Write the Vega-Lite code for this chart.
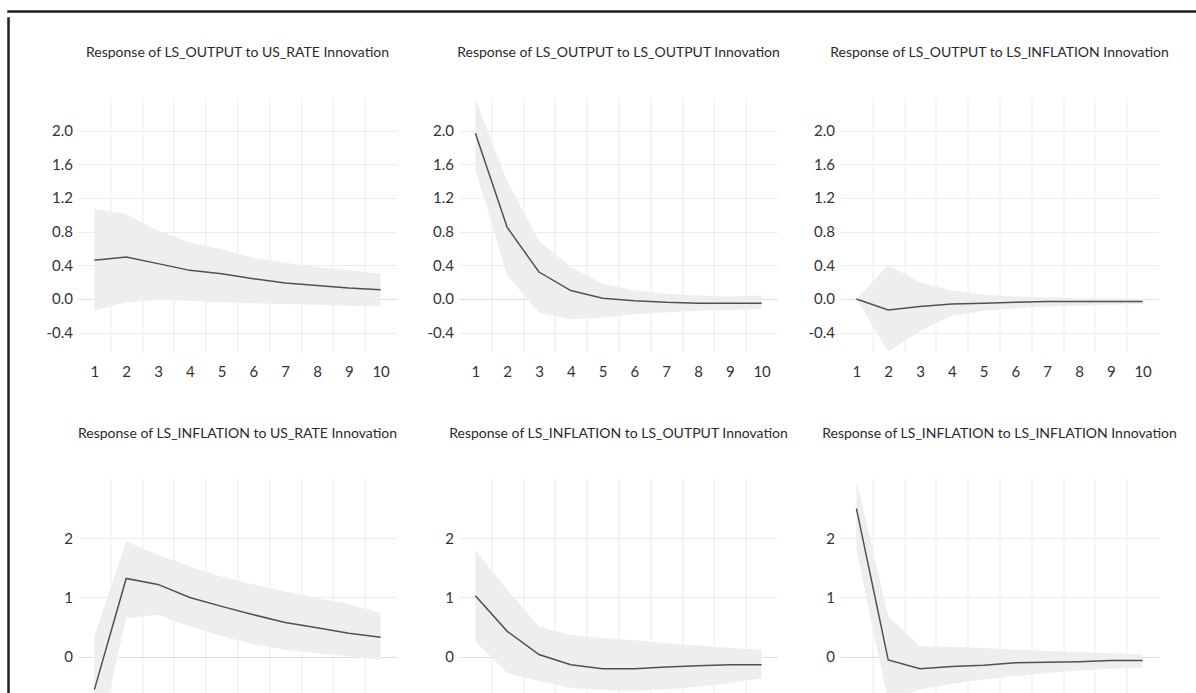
{
  "$schema": "https://vega.github.io/schema/vega-lite/v6.json",
  "padding": {"left": 5, "top": 8, "right": 0, "bottom": 0},
  "background": "#ffffff",
  "datasets": {
    "irf": [
      {"panel": 1, "h": 1, "v": 0.46, "lo": -0.14, "hi": 1.07},
      {"panel": 1, "h": 2, "v": 0.50, "lo": -0.04, "hi": 1.01},
      {"panel": 1, "h": 3, "v": 0.42, "lo": -0.01, "hi": 0.81},
      {"panel": 1, "h": 4, "v": 0.34, "lo": -0.02, "hi": 0.67},
      {"panel": 1, "h": 5, "v": 0.30, "lo": -0.04, "hi": 0.59},
      {"panel": 1, "h": 6, "v": 0.24, "lo": -0.05, "hi": 0.49},
      {"panel": 1, "h": 7, "v": 0.19, "lo": -0.06, "hi": 0.43},
      {"panel": 1, "h": 8, "v": 0.16, "lo": -0.07, "hi": 0.38},
      {"panel": 1, "h": 9, "v": 0.13, "lo": -0.08, "hi": 0.34},
      {"panel": 1, "h": 10, "v": 0.11, "lo": -0.09, "hi": 0.30},
      {"panel": 2, "h": 1, "v": 1.97, "lo": 1.54, "hi": 2.38},
      {"panel": 2, "h": 2, "v": 0.85, "lo": 0.28, "hi": 1.40},
      {"panel": 2, "h": 3, "v": 0.32, "lo": -0.16, "hi": 0.69},
      {"panel": 2, "h": 4, "v": 0.10, "lo": -0.24, "hi": 0.38},
      {"panel": 2, "h": 5, "v": 0.01, "lo": -0.22, "hi": 0.18},
      {"panel": 2, "h": 6, "v": -0.02, "lo": -0.18, "hi": 0.10},
      {"panel": 2, "h": 7, "v": -0.04, "lo": -0.16, "hi": 0.06},
      {"panel": 2, "h": 8, "v": -0.05, "lo": -0.14, "hi": 0.04},
      {"panel": 2, "h": 9, "v": -0.05, "lo": -0.13, "hi": 0.03},
      {"panel": 2, "h": 10, "v": -0.05, "lo": -0.12, "hi": 0.04},
      {"panel": 3, "h": 1, "v": 0.0, "lo": 0.0, "hi": 0.0},
      {"panel": 3, "h": 2, "v": -0.13, "lo": -0.63, "hi": 0.40},
      {"panel": 3, "h": 3, "v": -0.09, "lo": -0.38, "hi": 0.20},
      {"panel": 3, "h": 4, "v": -0.06, "lo": -0.20, "hi": 0.10},
      {"panel": 3, "h": 5, "v": -0.05, "lo": -0.14, "hi": 0.05},
      {"panel": 3, "h": 6, "v": -0.04, "lo": -0.11, "hi": 0.03},
      {"panel": 3, "h": 7, "v": -0.03, "lo": -0.09, "hi": 0.02},
      {"panel": 3, "h": 8, "v": -0.03, "lo": -0.08, "hi": 0.01},
      {"panel": 3, "h": 9, "v": -0.03, "lo": -0.07, "hi": 0.01},
      {"panel": 3, "h": 10, "v": -0.03, "lo": -0.06, "hi": 0.0},
      {"panel": 4, "h": 1, "v": -0.55, "lo": -1.7, "hi": 0.35},
      {"panel": 4, "h": 2, "v": 1.32, "lo": 0.65, "hi": 1.94},
      {"panel": 4, "h": 3, "v": 1.22, "lo": 0.71, "hi": 1.72},
      {"panel": 4, "h": 4, "v": 1.00, "lo": 0.51, "hi": 1.52},
      {"panel": 4, "h": 5, "v": 0.85, "lo": 0.35, "hi": 1.35},
      {"panel": 4, "h": 6, "v": 0.71, "lo": 0.21, "hi": 1.22},
      {"panel": 4, "h": 7, "v": 0.58, "lo": 0.12, "hi": 1.10},
      {"panel": 4, "h": 8, "v": 0.49, "lo": 0.06, "hi": 0.99},
      {"panel": 4, "h": 9, "v": 0.40, "lo": 0.01, "hi": 0.89},
      {"panel": 4, "h": 10, "v": 0.33, "lo": -0.05, "hi": 0.74},
      {"panel": 5, "h": 1, "v": 1.03, "lo": 0.26, "hi": 1.80},
      {"panel": 5, "h": 2, "v": 0.43, "lo": -0.27, "hi": 1.13},
      {"panel": 5, "h": 3, "v": 0.04, "lo": -0.41, "hi": 0.51},
      {"panel": 5, "h": 4, "v": -0.13, "lo": -0.52, "hi": 0.37},
      {"panel": 5, "h": 5, "v": -0.20, "lo": -0.56, "hi": 0.32},
      {"panel": 5, "h": 6, "v": -0.20, "lo": -0.57, "hi": 0.28},
      {"panel": 5, "h": 7, "v": -0.17, "lo": -0.55, "hi": 0.23},
      {"panel": 5, "h": 8, "v": -0.15, "lo": -0.50, "hi": 0.19},
      {"panel": 5, "h": 9, "v": -0.13, "lo": -0.44, "hi": 0.15},
      {"panel": 5, "h": 10, "v": -0.13, "lo": -0.36, "hi": 0.12},
      {"panel": 6, "h": 1, "v": 2.50, "lo": 1.80, "hi": 2.98},
      {"panel": 6, "h": 2, "v": -0.05, "lo": -0.75, "hi": 0.68},
      {"panel": 6, "h": 3, "v": -0.20, "lo": -0.55, "hi": 0.18},
      {"panel": 6, "h": 4, "v": -0.16, "lo": -0.45, "hi": 0.17},
      {"panel": 6, "h": 5, "v": -0.14, "lo": -0.38, "hi": 0.15},
      {"panel": 6, "h": 6, "v": -0.10, "lo": -0.32, "hi": 0.12},
      {"panel": 6, "h": 7, "v": -0.09, "lo": -0.27, "hi": 0.10},
      {"panel": 6, "h": 8, "v": -0.08, "lo": -0.23, "hi": 0.08},
      {"panel": 6, "h": 9, "v": -0.06, "lo": -0.20, "hi": 0.06},
      {"panel": 6, "h": 10, "v": -0.06, "lo": -0.18, "hi": 0.05}
    ],
    "blank": [{"k": 0}]
  },
  "spacing": 0,
  "vconcat": [
    {
      "data": {"name": "blank"},
      "width": 1400, "height": 1,
      "view": {"stroke": "#1e1e1e", "strokeWidth": 1.5},
      "mark": {"type": "point", "opacity": 0},
      "encoding": {}
    },
    {
      "spacing": 6.5,
      "hconcat": [
        {
          "data": {"name": "blank"},
          "width": 1, "height": 800,
          "view": {"stroke": "#1e1e1e", "strokeWidth": 1.5},
          "mark": {"type": "point", "opacity": 0},
          "encoding": {}
        },
        {
          "spacing": 24,
          "vconcat": [
            {
              "data": {"name": "blank"},
              "width": 1, "height": 1,
              "mark": {"type": "point", "opacity": 0},
              "encoding": {}
            },
            {
              "columns": 3,
              "bounds": "flush",
              "spacing": {"row": 126, "column": 63},
              "concat": [
                {
                  "data": {"name": "irf"},
                  "transform": [{"filter": "datum.panel === 1"}],
                  "width": 318, "height": 255,
                  "title": {"text": "Response of LS_OUTPUT to US_RATE Innovation"},
                  "encoding": {"x": {"field": "h", "type": "quantitative", "scale": {"domain": [0.5, 10.5], "nice": false, "zero": false},
                    "axis": {"values": [1, 1.5, 2, 2.5, 3, 3.5, 4, 4.5, 5, 5.5, 6, 6.5, 7, 7.5, 8, 8.5, 9, 9.5, 10], "labelExpr": "datum.value % 1 === 0 ? format(datum.value, 'd') : ''", "gridOpacity": {"condition": {"test": "datum.value % 1 !== 0", "value": 1}, "value": 0}}}},
                  "layer": [
                    {"mark": {"type": "area", "color": "#eeeeee", "clip": true},
                     "encoding": {"y": {"field": "lo", "type": "quantitative", "scale": {"domain": [-0.63, 2.4], "nice": false, "zero": false},
                       "axis": {"values": [-0.4, 0, 0.4, 0.8, 1.2, 1.6, 2.0], "labelExpr": "datum.value < 0 ? '-' + format(-datum.value, '.1f') : format(datum.value, '.1f')", "gridColor": {"condition": {"test": "abs(datum.value) < 0.000001", "value": "#dedede"}, "value": "#ececec"}}},
                       "y2": {"field": "hi"}}},
                    {"mark": {"type": "line", "color": "#505050", "strokeWidth": 1.5, "clip": true},
                     "encoding": {"y": {"field": "v", "type": "quantitative"}}}
                  ]
                },
                {
                  "data": {"name": "irf"},
                  "transform": [{"filter": "datum.panel === 2"}],
                  "width": 318, "height": 255,
                  "title": {"text": "Response of LS_OUTPUT to LS_OUTPUT Innovation"},
                  "encoding": {"x": {"field": "h", "type": "quantitative", "scale": {"domain": [0.5, 10.5], "nice": false, "zero": false},
                    "axis": {"values": [1, 1.5, 2, 2.5, 3, 3.5, 4, 4.5, 5, 5.5, 6, 6.5, 7, 7.5, 8, 8.5, 9, 9.5, 10], "labelExpr": "datum.value % 1 === 0 ? format(datum.value, 'd') : ''", "gridOpacity": {"condition": {"test": "datum.value % 1 !== 0", "value": 1}, "value": 0}}}},
                  "layer": [
                    {"mark": {"type": "area", "color": "#eeeeee", "clip": true},
                     "encoding": {"y": {"field": "lo", "type": "quantitative", "scale": {"domain": [-0.63, 2.4], "nice": false, "zero": false},
                       "axis": {"values": [-0.4, 0, 0.4, 0.8, 1.2, 1.6, 2.0], "labelExpr": "datum.value < 0 ? '-' + format(-datum.value, '.1f') : format(datum.value, '.1f')", "gridColor": {"condition": {"test": "abs(datum.value) < 0.000001", "value": "#dedede"}, "value": "#ececec"}}},
                       "y2": {"field": "hi"}}},
                    {"mark": {"type": "line", "color": "#505050", "strokeWidth": 1.5, "clip": true},
                     "encoding": {"y": {"field": "v", "type": "quantitative"}}}
                  ]
                },
                {
                  "data": {"name": "irf"},
                  "transform": [{"filter": "datum.panel === 3"}],
                  "width": 318, "height": 255,
                  "title": {"text": "Response of LS_OUTPUT to LS_INFLATION Innovation"},
                  "encoding": {"x": {"field": "h", "type": "quantitative", "scale": {"domain": [0.5, 10.5], "nice": false, "zero": false},
                    "axis": {"values": [1, 1.5, 2, 2.5, 3, 3.5, 4, 4.5, 5, 5.5, 6, 6.5, 7, 7.5, 8, 8.5, 9, 9.5, 10], "labelExpr": "datum.value % 1 === 0 ? format(datum.value, 'd') : ''", "gridOpacity": {"condition": {"test": "datum.value % 1 !== 0", "value": 1}, "value": 0}}}},
                  "layer": [
                    {"mark": {"type": "area", "color": "#eeeeee", "clip": true},
                     "encoding": {"y": {"field": "lo", "type": "quantitative", "scale": {"domain": [-0.63, 2.4], "nice": false, "zero": false},
                       "axis": {"values": [-0.4, 0, 0.4, 0.8, 1.2, 1.6, 2.0], "labelExpr": "datum.value < 0 ? '-' + format(-datum.value, '.1f') : format(datum.value, '.1f')", "gridColor": {"condition": {"test": "abs(datum.value) < 0.000001", "value": "#dedede"}, "value": "#ececec"}}},
                       "y2": {"field": "hi"}}},
                    {"mark": {"type": "line", "color": "#505050", "strokeWidth": 1.5, "clip": true},
                     "encoding": {"y": {"field": "v", "type": "quantitative"}}}
                  ]
                },
                {
                  "data": {"name": "irf"},
                  "transform": [{"filter": "datum.panel === 4"}],
                  "width": 318, "height": 255,
                  "title": {"text": "Response of LS_INFLATION to US_RATE Innovation"},
                  "encoding": {"x": {"field": "h", "type": "quantitative", "scale": {"domain": [0.5, 10.5], "nice": false, "zero": false},
                    "axis": {"values": [1, 1.5, 2, 2.5, 3, 3.5, 4, 4.5, 5, 5.5, 6, 6.5, 7, 7.5, 8, 8.5, 9, 9.5, 10], "labelExpr": "datum.value % 1 === 0 ? format(datum.value, 'd') : ''", "gridOpacity": {"condition": {"test": "datum.value % 1 !== 0", "value": 1}, "value": 0}}}},
                  "layer": [
                    {"mark": {"type": "area", "color": "#eeeeee", "clip": true},
                     "encoding": {"y": {"field": "lo", "type": "quantitative", "scale": {"domain": [-1.28, 3.01], "nice": false, "zero": false},
                       "axis": {"values": [0, 1, 2], "labelExpr": "format(datum.value, 'd')", "gridColor": {"condition": {"test": "abs(datum.value) < 0.000001", "value": "#dedede"}, "value": "#ececec"}}},
                       "y2": {"field": "hi"}}},
                    {"mark": {"type": "line", "color": "#505050", "strokeWidth": 1.5, "clip": true},
                     "encoding": {"y": {"field": "v", "type": "quantitative"}}}
                  ]
                },
                {
                  "data": {"name": "irf"},
                  "transform": [{"filter": "datum.panel === 5"}],
                  "width": 318, "height": 255,
                  "title": {"text": "Response of LS_INFLATION to LS_OUTPUT Innovation"},
                  "encoding": {"x": {"field": "h", "type": "quantitative", "scale": {"domain": [0.5, 10.5], "nice": false, "zero": false},
                    "axis": {"values": [1, 1.5, 2, 2.5, 3, 3.5, 4, 4.5, 5, 5.5, 6, 6.5, 7, 7.5, 8, 8.5, 9, 9.5, 10], "labelExpr": "datum.value % 1 === 0 ? format(datum.value, 'd') : ''", "gridOpacity": {"condition": {"test": "datum.value % 1 !== 0", "value": 1}, "value": 0}}}},
                  "layer": [
                    {"mark": {"type": "area", "color": "#eeeeee", "clip": true},
                     "encoding": {"y": {"field": "lo", "type": "quantitative", "scale": {"domain": [-1.28, 3.01], "nice": false, "zero": false},
                       "axis": {"values": [0, 1, 2], "labelExpr": "format(datum.value, 'd')", "gridColor": {"condition": {"test": "abs(datum.value) < 0.000001", "value": "#dedede"}, "value": "#ececec"}}},
                       "y2": {"field": "hi"}}},
                    {"mark": {"type": "line", "color": "#505050", "strokeWidth": 1.5, "clip": true},
                     "encoding": {"y": {"field": "v", "type": "quantitative"}}}
                  ]
                },
                {
                  "data": {"name": "irf"},
                  "transform": [{"filter": "datum.panel === 6"}],
                  "width": 318, "height": 255,
                  "title": {"text": "Response of LS_INFLATION to LS_INFLATION Innovation"},
                  "encoding": {"x": {"field": "h", "type": "quantitative", "scale": {"domain": [0.5, 10.5], "nice": false, "zero": false},
                    "axis": {"values": [1, 1.5, 2, 2.5, 3, 3.5, 4, 4.5, 5, 5.5, 6, 6.5, 7, 7.5, 8, 8.5, 9, 9.5, 10], "labelExpr": "datum.value % 1 === 0 ? format(datum.value, 'd') : ''", "gridOpacity": {"condition": {"test": "datum.value % 1 !== 0", "value": 1}, "value": 0}}}},
                  "layer": [
                    {"mark": {"type": "area", "color": "#eeeeee", "clip": true},
                     "encoding": {"y": {"field": "lo", "type": "quantitative", "scale": {"domain": [-1.28, 3.01], "nice": false, "zero": false},
                       "axis": {"values": [0, 1, 2], "labelExpr": "format(datum.value, 'd')", "gridColor": {"condition": {"test": "abs(datum.value) < 0.000001", "value": "#dedede"}, "value": "#ececec"}}},
                       "y2": {"field": "hi"}}},
                    {"mark": {"type": "line", "color": "#505050", "strokeWidth": 1.5, "clip": true},
                     "encoding": {"y": {"field": "v", "type": "quantitative"}}}
                  ]
                }
              ]
            }
          ]
        }
      ]
    }
  ],
  "config": {
    "view": {"stroke": null},
    "axis": {"domain": false, "ticks": false, "title": null, "labelFont": "Lato", "labelFontSize": 15, "labelColor": "#333333", "gridColor": "#ececec", "gridWidth": 1},
    "axisX": {"labelPadding": 12, "labelFlush": false},
    "axisY": {"labelPadding": 6, "minExtent": 60, "maxExtent": 60},
    "title": {"font": "Lato", "fontSize": 14, "fontWeight": "normal", "color": "#2a2a2a", "frame": "group", "anchor": "middle", "offset": 37}
  }
}
